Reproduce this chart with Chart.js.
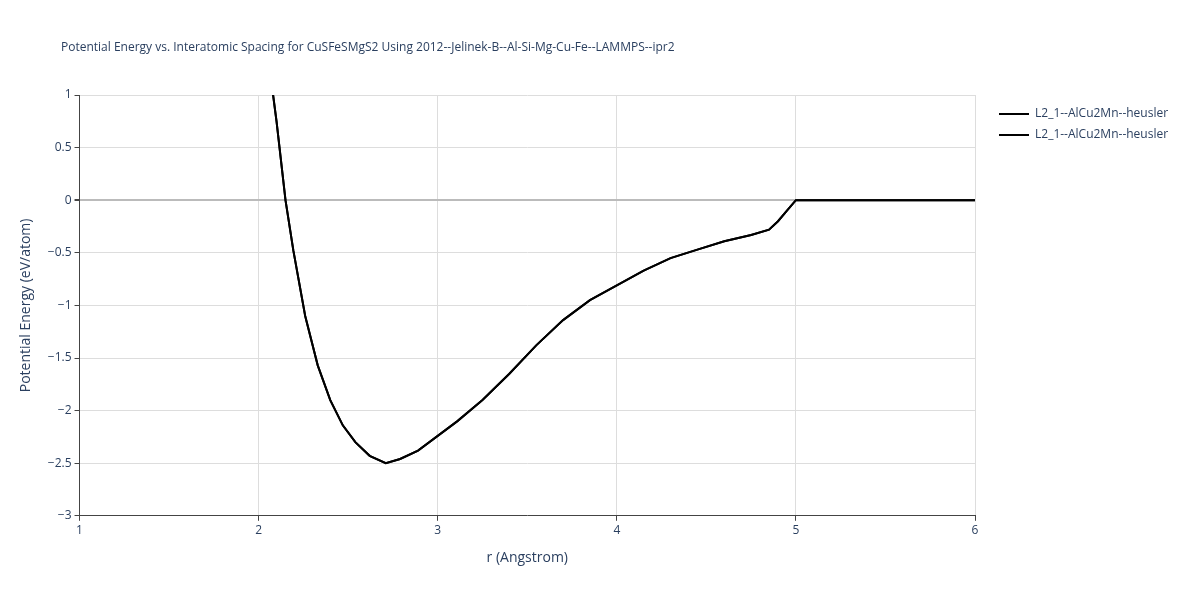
<!DOCTYPE html>
<html>
<head>
<meta charset="UTF-8" />
<script src="https://cdn.jsdelivr.net/npm/chart.js"></script>
<style>
  body { margin: 0; background: #fff; }
  #wrap { width: 1200px; height: 600px; position: relative; }
  #title { position: absolute; left: 61px; top: 38px; font: 12px "Open Sans", Arial, sans-serif; color: #2a3f5f; }
</style>
</head>
<body>
<div id="wrap">
  <div id="title">Potential Energy vs. Interatomic Spacing for CuSFeSMgS2 Using 2012--Jelinek-B--Al-Si-Mg-Cu-Fe--LAMMPS--ipr2</div>
  <canvas id="chart"></canvas>
</div>
<script>
  const rValues = [2.05, 2.1, 2.15, 2.194, 2.26, 2.33, 2.40, 2.47, 2.54, 2.62, 2.71, 2.79, 2.89, 3.0, 3.11,
    3.25, 3.4, 3.55, 3.7, 3.85, 4.0, 4.15, 4.3, 4.45, 4.6, 4.75, 4.85, 4.9, 4.95, 5.0, 5.5, 6.0];
  const energyValues = [1.4, 0.75, 0, -0.48, -1.1, -1.57, -1.9, -2.14, -2.3, -2.43, -2.5, -2.46, -2.38, -2.24, -2.1,
    -1.9, -1.65, -1.38, -1.14, -0.95, -0.81, -0.67, -0.55, -0.47, -0.39, -0.33, -0.28, -0.2, -0.1, 0, 0, 0];
  const seriesNames = ['L2_1--AlCu2Mn--heusler', 'L2_1--AlCu2Mn--heusler'];

  const points = rValues.map((r, i) => ({ x: r, y: energyValues[i] }));
  Chart.defaults.font.family = '"Open Sans", Arial, sans-serif';
  Chart.defaults.color = '#2a3f5f';

  // legend drawn at a fixed place to the right of the plot
  const sideLegend = {
    id: 'sideLegend',
    afterDraw(chart) {
      const ctx = chart.ctx;
      ctx.save();
      ctx.font = '12px "Open Sans", Arial, sans-serif';
      ctx.textBaseline = 'middle';
      chart.data.datasets.forEach((ds, i) => {
        const y = 114 + i * 21;
        ctx.strokeStyle = ds.borderColor;
        ctx.lineWidth = 2;
        ctx.beginPath();
        ctx.moveTo(999, y);
        ctx.lineTo(1029, y);
        ctx.stroke();
        ctx.fillStyle = '#2a3f5f';
        ctx.fillText(ds.label, 1035, y);
      });
      ctx.restore();
    }
  };

  new Chart(document.getElementById('chart'), {
    type: 'scatter',
    data: {
      datasets: seriesNames.map(name => ({
        label: name,
        data: points,
        showLine: true,
        borderColor: '#000',
        backgroundColor: '#000',
        borderWidth: 2,
        pointRadius: 0,
        tension: 0
      }))
    },
    plugins: [sideLegend],
    options: {
      responsive: true,
      maintainAspectRatio: false,
      animation: false,
      layout: { padding: { top: 95, right: 225, bottom: 30, left: 14 } },
      plugins: {
        legend: { display: false },
        tooltip: { enabled: false }
      },
      scales: {
        x: {
          type: 'linear', min: 1, max: 6,
          ticks: { stepSize: 1, font: { size: 12 } },
          grid: { color: '#ddd', tickColor: '#444', tickLength: 5 },
          border: { color: '#444' },
          title: { display: true, text: 'r (Angstrom)', font: { size: 14 }, padding: { top: 8 } }
        },
        y: {
          min: -3, max: 1,
          ticks: { stepSize: 0.5, font: { size: 12 }, callback: v => String(v).replace('-', '\u2212') },
          grid: { color: c => c.tick && c.tick.value === 0 ? '#bbb' : '#ddd', lineWidth: c => c.tick && c.tick.value === 0 ? 2 : 1, tickColor: '#444', tickLength: 5 },
          border: { color: '#444' },
          title: { display: true, text: 'Potential Energy (eV/atom)', font: { size: 14 }, padding: { bottom: 10 } }
        }
      }
    }
  });
</script>
</body>
</html>
